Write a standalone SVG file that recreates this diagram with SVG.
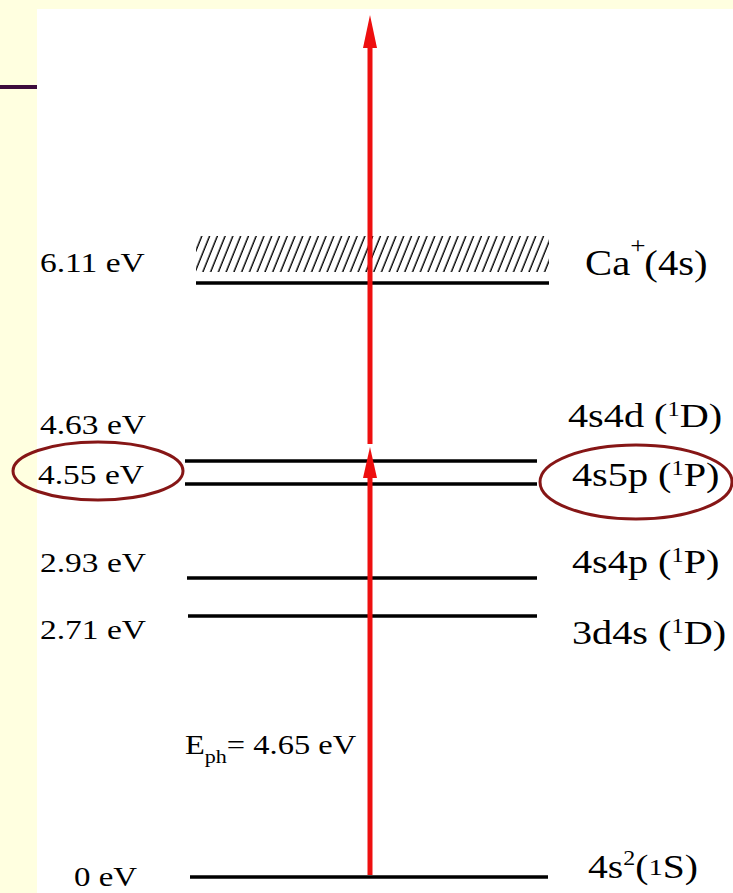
<svg xmlns="http://www.w3.org/2000/svg" width="733" height="893" viewBox="0 0 733 893">
<defs>
<style>
.lbl{font-family:"Liberation Serif","Times New Roman",serif;fill:#000}
.l{font-size:27px}
.r{font-size:33px}
.lvl{stroke:#000;stroke-width:3.5;fill:none}
.ring{fill:none;stroke:#861616;stroke-width:3}
.beam{stroke:#ee0f0f;stroke-width:5;fill:none}
.head{fill:#ee0f0f}
</style>
<pattern id="hatch" patternUnits="userSpaceOnUse" width="7.2" height="40" patternTransform="rotate(22)">
<line x1="2" y1="0" x2="2" y2="40" stroke="#000" stroke-width="1.4"/>
</pattern>
</defs>
<rect x="0" y="0" width="733" height="893" fill="#ffffe0"/>
<rect x="37" y="9" width="696" height="884" fill="#fff"/>
<line x1="0" y1="87" x2="37" y2="87" stroke="#3d0c3d" stroke-width="4"/>

<g id="ionization">
<rect x="196" y="236" width="353" height="36" fill="url(#hatch)"/>
<line class="lvl" x1="196" y1="283" x2="549" y2="283"/>
<text class="lbl" transform="translate(40,272) scale(1.24,1)" font-size="27">6.11 eV</text>
<text class="lbl" transform="translate(585,275) scale(1.13,1)" font-size="36">Ca<tspan font-size="24" dy="-22">+</tspan><tspan dy="22" dx="-1">(4s)</tspan></text>
</g>

<g id="level-463">
<line class="lvl" x1="185" y1="461" x2="537" y2="461"/>
<text class="lbl l" transform="translate(40,434) scale(1.24,1)">4.63 eV</text>
<text class="lbl r" transform="translate(568,427) scale(1.22,1)">4s4d (<tspan font-size="20" dy="-11">1</tspan><tspan dy="11">D)</tspan></text>
</g>

<g id="level-455">
<line class="lvl" x1="185" y1="484" x2="537" y2="484"/>
<text class="lbl l" transform="translate(38,484) scale(1.24,1)">4.55 eV</text>
<text class="lbl r" transform="translate(572,486) scale(1.22,1)">4s5p (<tspan font-size="20" dy="-11">1</tspan><tspan dy="11">P)</tspan></text>
<ellipse class="ring" cx="98" cy="471" rx="85" ry="29"/>
<ellipse class="ring" cx="636" cy="482" rx="96" ry="37"/>
</g>

<g id="level-293">
<line class="lvl" x1="187" y1="578" x2="537" y2="578"/>
<text class="lbl l" transform="translate(40,572) scale(1.24,1)">2.93 eV</text>
<text class="lbl r" transform="translate(572,573) scale(1.22,1)">4s4p (<tspan font-size="20" dy="-11">1</tspan><tspan dy="11">P)</tspan></text>
</g>

<g id="level-271">
<line class="lvl" x1="188" y1="616" x2="537" y2="616"/>
<text class="lbl l" transform="translate(40,639) scale(1.24,1)">2.71 eV</text>
<text class="lbl r" transform="translate(572,644) scale(1.22,1)">3d4s (<tspan font-size="20" dy="-11">1</tspan><tspan dy="11">D)</tspan></text>
</g>

<g id="level-0">
<line class="lvl" x1="190" y1="877" x2="548" y2="877"/>
<text class="lbl l" transform="translate(74,886) scale(1.22,1)">0 eV</text>
<text class="lbl r" transform="translate(588,878) scale(1.2,1)">4s<tspan font-size="20" dy="-13">2</tspan><tspan dy="13">(</tspan><tspan font-size="24" dy="-3">1</tspan><tspan dy="3">S)</tspan></text>
</g>

<g id="photon-label">
<text class="lbl" transform="translate(185,754) scale(1.16,1)" font-size="28">E<tspan font-size="19" dy="9">ph</tspan><tspan dy="-9">= 4.65 eV</tspan></text>
</g>

<g id="connectors">
<line class="beam" x1="370" y1="875" x2="370" y2="476"/>
<polygon class="head" points="370,447 377,478 363,478"/>
<line class="beam" x1="370" y1="444" x2="370" y2="45"/>
<polygon class="head" points="370,15 377,48 363,48"/>
</g>
</svg>
